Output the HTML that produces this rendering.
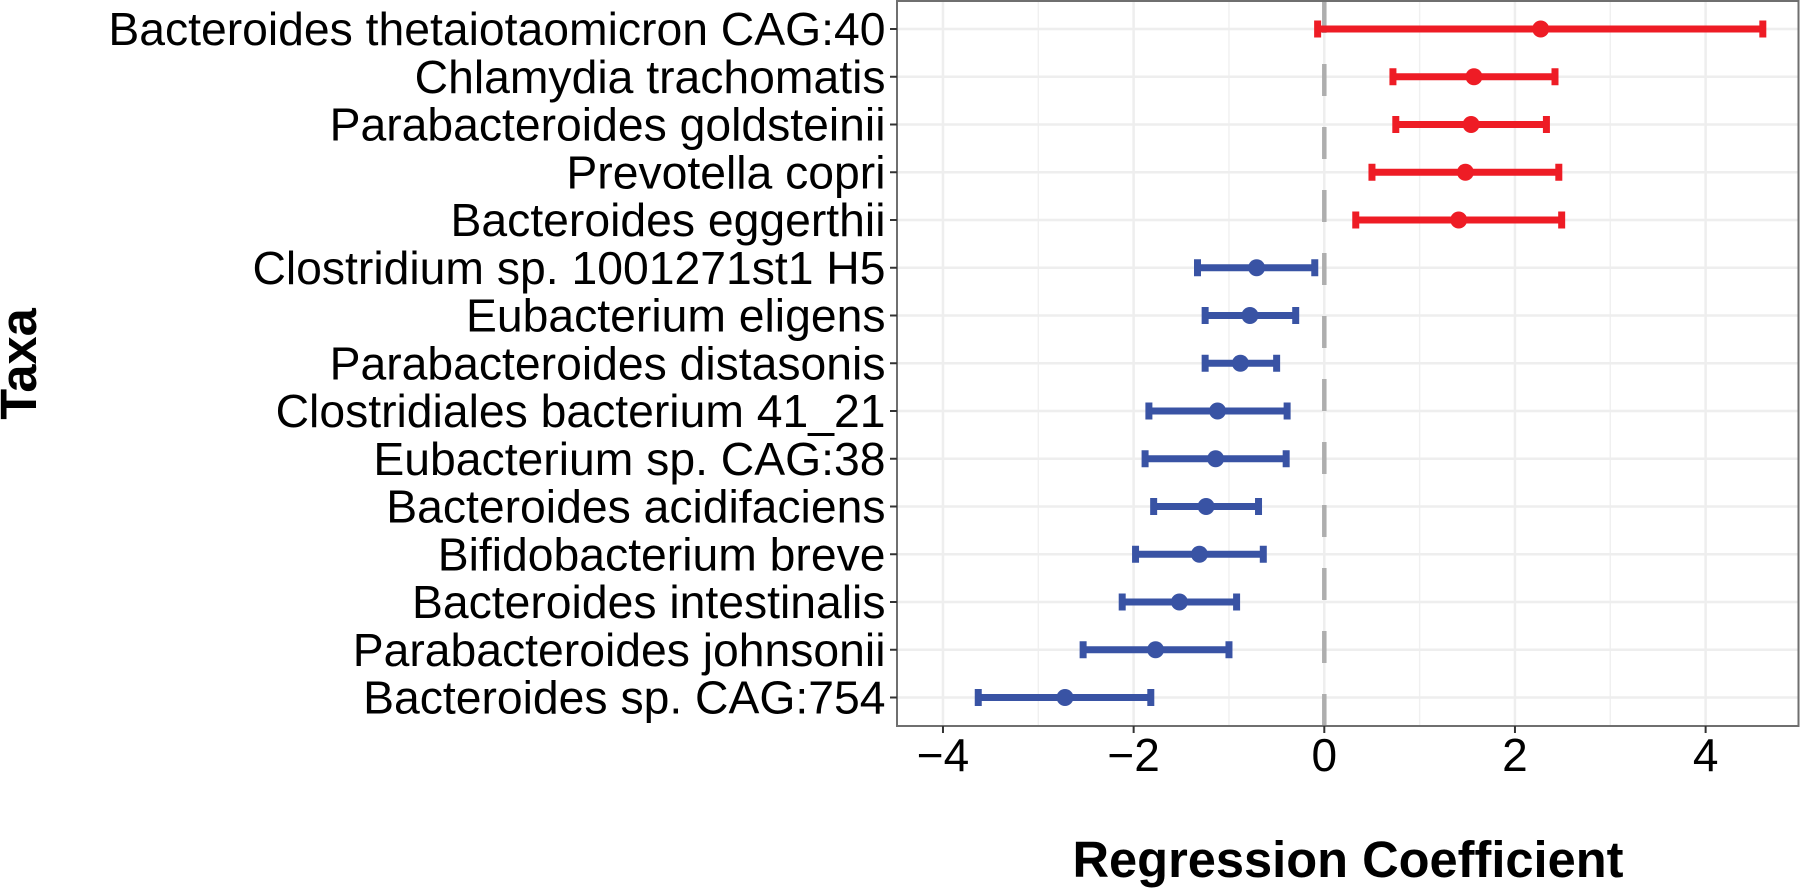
<!DOCTYPE html>
<html lang="en">
<head>
<meta charset="utf-8">
<title>Regression coefficients by taxa</title>
<style>
html,body{margin:0;padding:0;background:#fff;width:1800px;height:888px;overflow:hidden}
svg{display:block;font-family:"Liberation Sans",Arial,sans-serif}
</style>
</head>
<body>
<svg id="chart" xmlns="http://www.w3.org/2000/svg" width="1800" height="888" viewBox="0 0 1800 888">
<rect x="0" y="0" width="1800" height="888" fill="#ffffff"/>
<g id="grid"></g>
<line id="zero" stroke="#aeaeae" stroke-width="4.5" stroke-dasharray="32 31"/>
<g id="marks"></g>
<rect id="panel" fill="none" stroke="#6f6f6f" stroke-width="2"/>
<g id="yaxis"></g>
<g id="xaxis"></g>
<text x="1348" y="877" text-anchor="middle" font-size="50.6" font-weight="bold" fill="#000">Regression Coefficient</text>
<text transform="translate(36,364) rotate(-90)" text-anchor="middle" font-size="50.6" font-weight="bold" fill="#000">Taxa</text>
</svg>
<script>
const taxa = ["Bacteroides thetaiotaomicron CAG:40","Chlamydia trachomatis","Parabacteroides goldsteinii","Prevotella copri","Bacteroides eggerthii","Clostridium sp. 1001271st1 H5","Eubacterium eligens","Parabacteroides distasonis","Clostridiales bacterium 41_21","Eubacterium sp. CAG:38","Bacteroides acidifaciens","Bifidobacterium breve","Bacteroides intestinalis","Parabacteroides johnsonii","Bacteroides sp. CAG:754"];
const coef = [2.27,1.57,1.54,1.48,1.41,-0.71,-0.78,-0.88,-1.12,-1.14,-1.24,-1.31,-1.52,-1.77,-2.72];
const lower = [-0.07,0.72,0.75,0.50,0.33,-1.33,-1.25,-1.25,-1.84,-1.88,-1.79,-1.98,-2.12,-2.53,-3.63];
const upper = [4.60,2.42,2.33,2.46,2.49,-0.10,-0.30,-0.50,-0.39,-0.40,-0.69,-0.64,-0.92,-1.00,-1.82];
const xTicks = [-4,-2,0,2,4];
const xMinor = [-3,-1,1,3];

const NS = "http://www.w3.org/2000/svg";
const L = 897, R = 1798.5, T = 1, B = 726;
const xScale = v => 1324.3 + v * 95.33;
const yScale = i => 29 + i * 47.75;
const RED = "#ee1c25", BLUE = "#3953a4";

function mk(parent, tag, attrs, text) {
  const el = document.createElementNS(NS, tag);
  for (const k in attrs) el.setAttribute(k, attrs[k]);
  if (text !== undefined) el.textContent = text;
  parent.appendChild(el);
  return el;
}
const grid = document.getElementById("grid");
const marks = document.getElementById("marks");
const yaxis = document.getElementById("yaxis");
const xaxis = document.getElementById("xaxis");

xMinor.forEach(v => {
  const el = mk(grid, "line", {x1:xScale(v), x2:xScale(v), y1:T, y2:B, stroke:"#f0f0f0", "stroke-width":1.4});
  
  
});
xTicks.forEach(v => {
  const el = mk(grid, "line", {x1:xScale(v), x2:xScale(v), y1:T, y2:B, stroke:"#eeeeee", "stroke-width":2.5});
  
  
});
taxa.forEach((t, i) => {
  const el = mk(grid, "line", {x1:L, x2:R, y1:yScale(i), y2:yScale(i), stroke:"#eeeeee", "stroke-width":2.5});
  
  
});

const zero = document.getElementById("zero");
zero.setAttribute("x1", xScale(0));
zero.setAttribute("x2", xScale(0));
zero.setAttribute("y1", B);
zero.setAttribute("y2", T);

const panel = document.getElementById("panel");
panel.setAttribute("x", L);
panel.setAttribute("y", T);
panel.setAttribute("width", R - L);
panel.setAttribute("height", B - T);

taxa.forEach((t, i) => {
  const y = yScale(i);
  const color = coef[i] > 0 ? RED : BLUE;
  const g = mk(marks, "g", {stroke:color, fill:color});
  
  
  const bar = mk(g, "line", {x1:xScale(lower[i]), x2:xScale(upper[i]), y1:y, y2:y, "stroke-width":7});
  
  
  const capL = mk(g, "line", {x1:xScale(lower[i]), x2:xScale(lower[i]), y1:y-8.5, y2:y+8.5, "stroke-width":7});
  
  
  const capR = mk(g, "line", {x1:xScale(upper[i]), x2:xScale(upper[i]), y1:y-8.5, y2:y+8.5, "stroke-width":7});
  
  
  const pt = mk(g, "circle", {cx:xScale(coef[i]), cy:y, r:8.5, stroke:"none"});
  
  

  const tick = mk(yaxis, "line", {x1:L-7, x2:L, y1:y, y2:y, stroke:"#333", "stroke-width":2});
  
  
  const lab = mk(yaxis, "text", {x:885.5, y:y+16, "text-anchor":"end", "font-size":46.3, fill:"#000"}, t);
  
  
});

xTicks.forEach(v => {
  const tick = mk(xaxis, "line", {x1:xScale(v), x2:xScale(v), y1:B, y2:B+7, stroke:"#333", "stroke-width":2});
  
  
  const lab = mk(xaxis, "text", {x:xScale(v), y:771, "text-anchor":"middle", "font-size":46, fill:"#000"}, v < 0 ? "\u2212" + Math.abs(v) : String(v));
  
  
});
</script>
</body>
</html>
